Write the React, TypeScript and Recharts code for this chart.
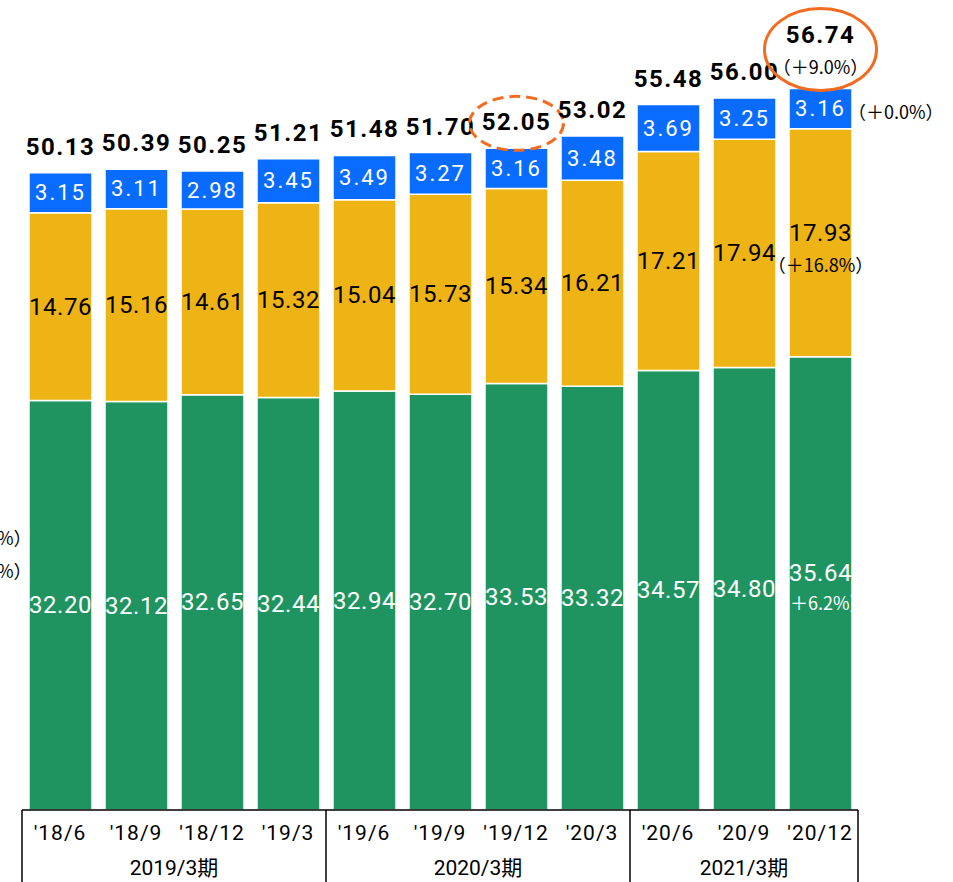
import React from "react";
import { BarChart, Bar, XAxis, YAxis, LabelList } from "recharts";

const categories = ["'18/6", "'18/9", "'18/12", "'19/3", "'19/6", "'19/9", "'19/12", "'20/3", "'20/6", "'20/9", "'20/12"];
const green = [32.2, 32.12, 32.65, 32.44, 32.94, 32.7, 33.53, 33.32, 34.57, 34.8, 35.64];
const yellow = [14.76, 15.16, 14.61, 15.32, 15.04, 15.73, 15.34, 16.21, 17.21, 17.94, 17.93];
const blue = [3.15, 3.11, 2.98, 3.45, 3.49, 3.27, 3.16, 3.48, 3.69, 3.25, 3.16];
const totals = [50.13, 50.39, 50.25, 51.21, 51.48, 51.7, 52.05, 53.02, 55.48, 56.0, 56.74];
const fiscalGroups = ["2019/3期", "2020/3期", "2021/3期"];
const groupSizes = [4, 4, 3];
const totalChange = "（＋9.0%）";
const blueChange = "（＋0.0%）";
const yellowChange = "（＋16.8%）";
const greenChange = "＋6.2%）";
const leftNotes = ["%）", "%）"];
const dashedIndex = 6;
const lastIndex = categories.length - 1;

const W = 953;
const H = 882;
const AXIS_H = 72;
const M = { top: 47, right: 95, bottom: 0, left: 22 };
const BAND = (W - M.left - M.right) / categories.length;

const GREEN = "#1F9461";
const YELLOW = "#EEB416";
const BLUE = "#0A6CFF";
const ORANGE = "#F26B1F";
const FONT = "Roboto, 'Noto Sans CJK JP', sans-serif";
const CJK = "'Noto Sans CJK JP', sans-serif";

const data = categories.map((c, i) => ({
  cat: c,
  green: green[i],
  yellow: yellow[i],
  blue: blue[i],
  total: totals[i],
}));

const groupStarts: number[] = [];
{
  let s = 0;
  groupSizes.forEach((n) => {
    groupStarts.push(s);
    s += n;
  });
}

const Tick = (props: any) => {
  const { x, y, payload, index } = props;
  const gi = groupStarts.indexOf(index);
  return (
    <g>
      <text x={x} y={y + 23} textAnchor="middle" dominantBaseline="central" fontSize={21} fontFamily={FONT} letterSpacing={1} fill="#000">
        {payload.value}
      </text>
      {gi >= 0 && (
        <>
          <line x1={x - BAND / 2} x2={x - BAND / 2} y1={y} y2={y + AXIS_H} stroke="#000" strokeWidth={1.5} />
          <text
            x={x + ((groupSizes[gi] - 1) / 2) * BAND}
            y={y + 58}
            textAnchor="middle"
            dominantBaseline="central"
            fontSize={21}
            fontFamily={FONT}
            fill="#000"
          >
            {fiscalGroups[gi]}
          </text>
        </>
      )}
      {index === lastIndex && (
        <line x1={x + BAND / 2} x2={x + BAND / 2} y1={y} y2={y + AXIS_H} stroke="#000" strokeWidth={1.5} />
      )}
    </g>
  );
};

const segLabel = (color: string, kind: string) => (props: any) => {
  const { x, y, width, height, value, index } = props;
  const cx = x + width / 2;
  const cy = y + height / 2;
  const fs = kind === "blue" ? 22 : 24;
  const ls = kind === "blue" ? 2 : 0.5;
  if (index === lastIndex && kind !== "blue") {
    const changeText = kind === "yellow" ? yellowChange : greenChange;
    return (
      <g>
        <text x={cx} y={cy - 10} textAnchor="middle" dominantBaseline="central" fontSize={fs} fontFamily={FONT} letterSpacing={ls} fill={color}>
          {Number(value).toFixed(2)}
        </text>
        {kind === "yellow" ? (
          <text x={cx} y={cy + 21} textAnchor="middle" dominantBaseline="central" fontSize={18} fontFamily={CJK} fill={color}>
            {changeText}
          </text>
        ) : (
          <text x={x + 1} y={cy + 19} textAnchor="start" dominantBaseline="central" fontSize={18} fontFamily={CJK} fill={color}>
            {changeText}
          </text>
        )}
      </g>
    );
  }
  return (
    <g>
      <text x={cx} y={cy} textAnchor="middle" dominantBaseline="central" fontSize={fs} fontFamily={FONT} letterSpacing={ls} fill={color}>
        {Number(value).toFixed(2)}
      </text>
      {index === lastIndex && kind === "blue" && (
        <text x={x + width - 4} y={cy + 2} textAnchor="start" dominantBaseline="central" fontSize={18} fontFamily={CJK} fill="#000">
          {blueChange}
        </text>
      )}
    </g>
  );
};

const totalLabel = (props: any) => {
  const { x, y, width, index } = props;
  const cx = x + width / 2;
  const v = totals[index].toFixed(2);
  if (index === lastIndex) {
    return (
      <g>
        <text x={cx} y={y - 54} textAnchor="middle" dominantBaseline="central" fontSize={24} fontWeight="bold" fontFamily={FONT} letterSpacing={1.5} fill="#000">
          {v}
        </text>
        <text x={cx} y={y - 23} textAnchor="middle" dominantBaseline="central" fontSize={18} fontFamily={CJK} fill="#000">
          {totalChange}
        </text>
        <ellipse cx={cx} cy={y - 39} rx={56} ry={41} fill="none" stroke={ORANGE} strokeWidth={3} />
      </g>
    );
  }
  return (
    <g>
      <text x={cx} y={y - 26} textAnchor="middle" dominantBaseline="central" fontSize={24} fontWeight="bold" fontFamily={FONT} letterSpacing={1.5} fill="#000">
        {v}
      </text>
      {index === dashedIndex && (
        <ellipse cx={cx} cy={y - 25} rx={47} ry={27} fill="none" stroke={ORANGE} strokeWidth={3} strokeDasharray="11 6" />
      )}
    </g>
  );
};

export default function App() {
  return (
    <div style={{ position: "absolute", left: 0, top: 0, width: W, height: H, background: "#fff" }}>
      <BarChart width={W} height={H} data={data} margin={M} barSize={63}>
        <XAxis
          dataKey="cat"
          axisLine={{ stroke: "#000", strokeWidth: 1.5 }}
          tickLine={false}
          tickSize={0}
          tickMargin={0}
          interval={0}
          tick={<Tick />}
          height={AXIS_H}
        />
        <YAxis hide domain={[0, 60]} />
        <Bar dataKey="green" stackId="a" fill={GREEN} stroke="#fff" strokeWidth={1.5} isAnimationActive={false}>
          <LabelList dataKey="green" content={segLabel("#fff", "green")} />
        </Bar>
        <Bar dataKey="yellow" stackId="a" fill={YELLOW} stroke="#fff" strokeWidth={1.5} isAnimationActive={false}>
          <LabelList dataKey="yellow" content={segLabel("#000", "yellow")} />
        </Bar>
        <Bar dataKey="blue" stackId="a" fill={BLUE} stroke="#fff" strokeWidth={1.5} isAnimationActive={false}>
          <LabelList dataKey="blue" content={segLabel("#fff", "blue")} />
          <LabelList dataKey="total" content={totalLabel} />
        </Bar>
      </BarChart>
      <svg width={W} height={H} style={{ position: "absolute", left: 0, top: 0, pointerEvents: "none" }}>
        {leftNotes.map((t, i) => (
          <text key={i} x={-3} y={537 + i * 33} dominantBaseline="central" fontSize={18} fontFamily={CJK} fill="#000">
            {t}
          </text>
        ))}
      </svg>
    </div>
  );
}
